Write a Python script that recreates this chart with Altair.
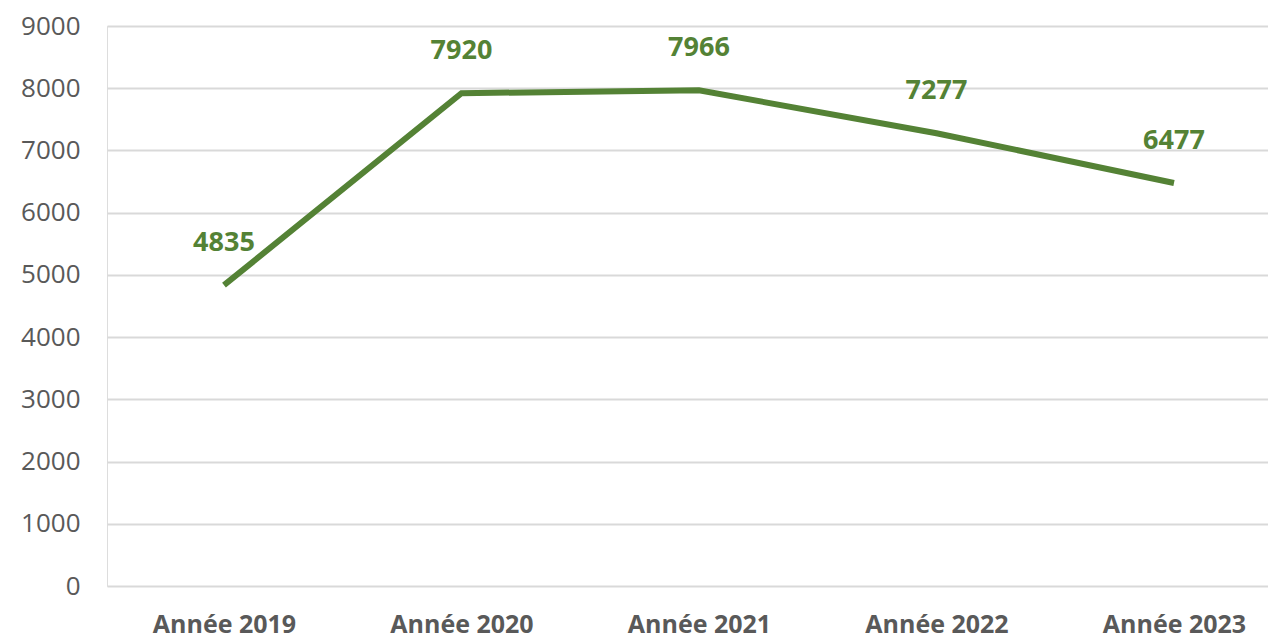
import altair as alt
import pandas as pd

categories = ["Année 2019", "Année 2020", "Année 2021", "Année 2022", "Année 2023"]
values = [4835, 7920, 7966, 7277, 6477]

df = pd.DataFrame({"idx": list(range(len(categories))), "cat": categories, "val": values})

GREEN = "#548235"
GRAY = "#595959"

label_expr = "[" + ",".join(f"'{c}'" for c in categories) + "][datum.value]"

x = alt.X("idx:Q",
          scale=alt.Scale(domain=[-0.4926, 4.3958], nice=False, zero=False),
          axis=alt.Axis(values=list(range(len(categories))), labelExpr=label_expr,
                        title=None, grid=False, ticks=False, domain=False,
                        labelFont="Open Sans", labelFontSize=25, labelFontWeight="bold",
                        labelColor=GRAY, labelBaseline="alphabetic", labelPadding=46,
                        labelFlush=False))
y = alt.Y("val:Q",
          scale=alt.Scale(domain=[0, 9000], nice=False),
          axis=alt.Axis(values=list(range(0, 9001, 1000)), format="d", title=None,
                        ticks=False, domain=False, gridColor="#d9d9d9", gridWidth=2,
                        labelFont="Open Sans", labelFontSize=26, labelColor=GRAY,
                        labelPadding=27))

base = alt.Chart(df)
line = base.mark_line(color=GREEN, strokeWidth=6, strokeJoin="miter", clip=False).encode(x=x, y=y)
text = base.mark_text(color=GREEN, font="Open Sans", fontSize=27, fontWeight="bold",
                      dy=-42, baseline="middle").encode(x=x, y=y, text="val:Q")

chart = (line + text).properties(
    width=1161, height=560,
    autosize=alt.AutoSizeParams(type="none"),
    padding={"left": 99, "top": 18, "right": 0, "bottom": 54},
).configure_view(stroke=None).configure(background="white")

chart.save("out.html", embed_options={"renderer": "svg", "actions": False})
